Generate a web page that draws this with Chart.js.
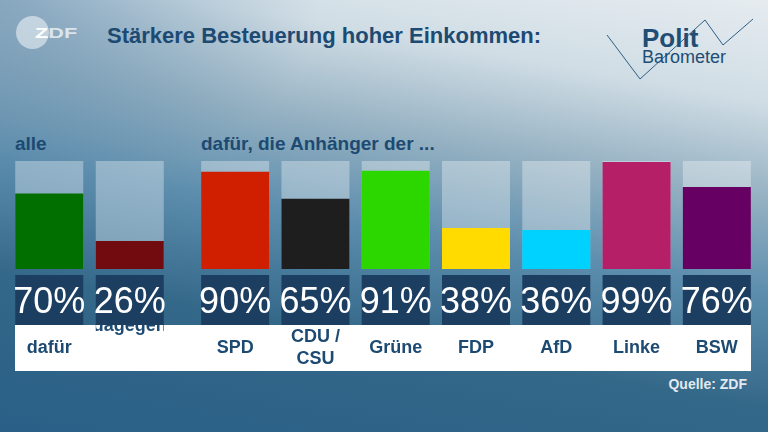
<!DOCTYPE html>
<html>
<head>
<meta charset="utf-8">
<script src="https://cdn.jsdelivr.net/npm/chart.js@4.4.1/dist/chart.umd.min.js"></script>
<style>
  body { margin: 0; }
  #wrap {
    position: relative; width: 768px; height: 432px; overflow: hidden;
    font-family: "Liberation Sans", Arial, sans-serif;
    background:
      radial-gradient(ellipse 320px 200px at 0 0, rgba(70,120,160,0.45), rgba(70,120,160,0)),
      linear-gradient(190deg, #e6ecf0 0%, #d0dde5 18%, #95b1c2 35%, #5c8dad 52%, #346889 72%, #2a5f87 100%);
  }
  .txt { position: absolute; line-height: 1; white-space: nowrap; }
  #title { left: 107px; top: 25px; font-size: 22px; font-weight: bold; color: #1c4a72; }
  .sub { top: 134px; font-size: 19px; font-weight: bold; color: #1d4a72; }
  #source { right: 21px; top: 377px; font-size: 14px; font-weight: bold; color: #e2eaf0; }
  #polit { left: 642px; top: 25px; font-size: 26px; font-weight: bold; color: #1f4d74; }
  #baro { left: 642px; top: 48px; font-size: 18px; color: #1f4d74; }
  #zdfCircle { position: absolute; left: 16px; top: 16px; width: 33px; height: 33px; border-radius: 50%; background: rgba(255,255,255,0.5); }
  #zdf { left: 35px; top: 26px; font-size: 14px; font-weight: bold; color: rgba(255,255,255,0.7); transform: scaleX(1.55); transform-origin: 0 0; }
  #zdf span { color: #fff; }
  #band { position: absolute; left: 15px; top: 325px; width: 736px; height: 46px; background: #fff; }
  canvas { position: absolute; }
  #chartAll { left: 9px; top: 161px; }
  #chartParty { left: 195px; top: 161px; }
  #zig { position: absolute; left: 0; top: 0; }
</style>
</head>
<body>
<div id="wrap">
  <div id="zdfCircle"></div>
  <div class="txt" id="zdf"><span>Z</span>DF</div>
  <div class="txt" id="title">Stärkere Besteuerung hoher Einkommen:</div>
  <svg id="zig" width="768" height="90">
    <polyline points="607,35 640,79 705,20 723,45 753,19" fill="none" stroke="#2f5f84" stroke-width="1"/>
  </svg>
  <div class="txt" id="polit">Polit</div>
  <div class="txt" id="baro">Barometer</div>
  <div class="txt sub" style="left:15px">alle</div>
  <div class="txt sub" style="left:201px">dafür, die Anhänger der ...</div>
  <div id="band"></div>
  <canvas id="chartAll" width="161" height="210"></canvas>
  <canvas id="chartParty" width="562" height="210"></canvas>
  <div class="txt" id="source">Quelle: ZDF</div>
</div>
<script>
// alle
const allLabels = [['dafür'], ['dagegen', '', '']];
const allValues = [70, 26];
const allColors = ['#006f00', '#720b0f'];

// Anhänger der Parteien
const partyLabels = [['SPD'], ['CDU /', 'CSU'], ['Grüne'], ['FDP'], ['AfD'], ['Linke'], ['BSW']];
const partyValues = [90, 65, 91, 38, 36, 99, 76];
const partyColors = ['#d01f00', '#1e1e1e', '#2cd700', '#ffdb00', '#00d2ff', '#b51f67', '#660063'];

const boxPlugin = {
  id: 'boxes',
  afterDatasetsDraw(chart) {
    const ctx = chart.ctx;
    const bottom = chart.chartArea.bottom;
    const meta = chart.getDatasetMeta(0);
    const labels = chart.data.labels;
    const values = chart.data.datasets[0].data;
    ctx.save();
    meta.data.forEach((bar, i) => {
      const left = bar.x - bar.width / 2;
      // category text in the white band
      ctx.save();
      ctx.beginPath();
      ctx.rect(left, bottom + 56, bar.width, 46);
      ctx.clip();
      ctx.fillStyle = '#1d4a72';
      ctx.font = 'bold 18px "Liberation Sans", Arial, sans-serif';
      ctx.textAlign = 'center';
      ctx.textBaseline = 'middle';
      const lines = labels[i];
      lines.forEach((line, j) => {
        ctx.fillText(line, bar.x, bottom + 79 + (j - (lines.length - 1) / 2) * 22);
      });
      ctx.restore();
      // value box
      ctx.fillStyle = '#1c3e61';
      ctx.fillRect(left, bottom + 6, bar.width, 50);
      ctx.fillStyle = '#ffffff';
      ctx.font = '36px "Liberation Sans", Arial, sans-serif';
      ctx.textAlign = 'center';
      ctx.textBaseline = 'alphabetic';
      ctx.fillText(values[i] + '%', bar.x, bottom + 44);
    });
    ctx.restore();
  }
};

function makeChart(id, labels, values, colors, barPct) {
  return new Chart(document.getElementById(id), {
    type: 'bar',
    data: {
      labels: labels,
      datasets: [
        { data: values, backgroundColor: colors, order: 0, grouped: false,
          barPercentage: barPct, categoryPercentage: 1 },
        { data: labels.map(() => 100), backgroundColor: 'rgba(255,255,255,0.33)', order: 1, grouped: false,
          barPercentage: barPct, categoryPercentage: 1 }
      ]
    },
    options: {
      responsive: false,
      animation: false,
      events: [],
      layout: { padding: { left: 0, right: 0, top: 0, bottom: 102 } },
      plugins: { legend: { display: false }, tooltip: { enabled: false } },
      scales: {
        x: { display: false },
        y: { display: false, min: 0, max: 100 }
      }
    },
    plugins: [boxPlugin]
  });
}

makeChart('chartAll', allLabels, allValues, allColors, 68 / 80.5);
makeChart('chartParty', partyLabels, partyValues, partyColors, 68 / 80.29);
</script>
</body>
</html>
